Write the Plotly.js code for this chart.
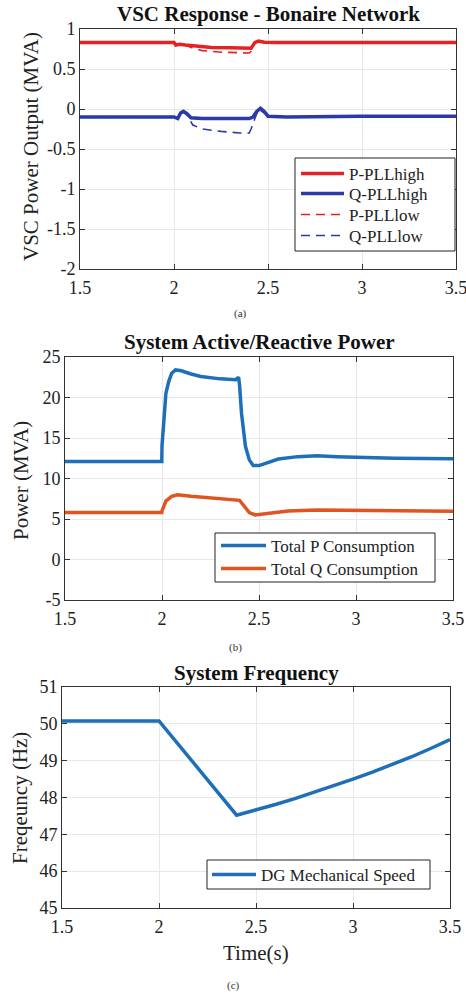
<!DOCTYPE html>
<html><head><meta charset="utf-8">
<script src="https://cdn.plot.ly/plotly-3.0.1.min.js"></script>
<style>html,body{margin:0;padding:0;background:#fff}</style>
</head><body><div id="chart" style="width:466px;height:994px"></div>
<script>
// ---- Panel (a): VSC response ----
const tPhigh = [1.5, 2.0, 2.01, 2.03, 2.06, 2.1, 2.15, 2.2, 2.3, 2.38, 2.41, 2.43, 2.45, 2.48, 2.55, 3.0, 3.5];
const pHigh  = [0.83, 0.83, 0.80, 0.81, 0.80, 0.79, 0.78, 0.77, 0.765, 0.76, 0.76, 0.83, 0.85, 0.835, 0.83, 0.83, 0.83];
const tPlow  = [1.5, 2.0, 2.02, 2.05, 2.1, 2.15, 2.25, 2.35, 2.4, 2.41, 2.43, 2.45, 2.48, 2.55, 3.5];
const pLow   = [0.83, 0.83, 0.80, 0.81, 0.76, 0.73, 0.71, 0.70, 0.70, 0.72, 0.83, 0.85, 0.835, 0.83, 0.83];
const tQhigh = [1.5, 2.0, 2.02, 2.035, 2.05, 2.07, 2.09, 2.15, 2.3, 2.4, 2.42, 2.44, 2.46, 2.48, 2.5, 2.6, 3.0, 3.5];
const qHigh  = [-0.10, -0.10, -0.12, -0.05, -0.03, -0.06, -0.11, -0.12, -0.12, -0.12, -0.10, -0.03, 0.01, -0.03, -0.09, -0.10, -0.09, -0.09];
const tQlow  = [1.5, 2.0, 2.02, 2.035, 2.05, 2.07, 2.1, 2.15, 2.25, 2.35, 2.4, 2.41, 2.43, 2.45, 2.48, 2.5, 3.5];
const qLow   = [-0.10, -0.10, -0.12, -0.05, -0.03, -0.08, -0.20, -0.25, -0.28, -0.30, -0.30, -0.25, -0.12, 0.0, -0.05, -0.10, -0.09];
// ---- Panel (b): system P/Q ----
const tPsys = [1.5, 1.999, 2.0, 2.01, 2.02, 2.035, 2.05, 2.07, 2.1, 2.15, 2.2, 2.3, 2.38, 2.395, 2.40, 2.41, 2.43, 2.45, 2.47, 2.5, 2.55, 2.6, 2.7, 2.8, 2.9, 3.0, 3.2, 3.5];
const pSys  = [12.1, 12.1, 14, 18, 20.5, 22.0, 23.0, 23.4, 23.3, 22.9, 22.6, 22.3, 22.2, 22.5, 21.5, 18, 14, 12.3, 11.6, 11.6, 12.0, 12.4, 12.7, 12.8, 12.7, 12.6, 12.5, 12.45];
const tQsys = [1.5, 1.999, 2.0, 2.02, 2.05, 2.08, 2.15, 2.25, 2.35, 2.4, 2.42, 2.45, 2.48, 2.55, 2.65, 2.8, 3.0, 3.5];
const qSys  = [5.8, 5.8, 6.0, 7.2, 7.8, 8.0, 7.8, 7.6, 7.35, 7.3, 6.7, 5.8, 5.5, 5.7, 6.0, 6.1, 6.05, 5.95];
// ---- Panel (c): frequency ----
const tFreq = [1.5, 2.0, 2.4, 2.5, 2.6, 2.7, 2.8, 2.9, 3.0, 3.1, 3.2, 3.3, 3.4, 3.5];
const freq  = [50.08, 50.08, 47.52, 47.66, 47.81, 47.97, 48.14, 48.32, 48.5, 48.69, 48.89, 49.1, 49.33, 49.57];
// ticks
const xTicks = [1.5, 2, 2.5, 3, 3.5];
const xTickText = ['1.5', '2', '2.5', '3', '3.5'];
const yTicksA = [-2, -1.5, -1, -0.5, 0, 0.5, 1];
const yTickTextA = ['-2', '-1.5', '-1', '-0.5', '0', '0.5', '1'];
const yTicksB = [-5, 0, 5, 10, 15, 20, 25];
const yTickTextB = ['-5', '0', '5', '10', '15', '20', '25'];
const yTicksC = [45, 46, 47, 48, 49, 50, 51];
const yTickTextC = ['45', '46', '47', '48', '49', '50', '51'];

const FONT = "'Liberation Serif', serif";
const RED = '#e52222', BLUE = '#2b3aa6', MBLUE = '#1f6fb8', MORANGE = '#df5420';

const traces = [
  {x: tPhigh, y: pHigh, name: 'P-PLLhigh', mode: 'lines', line: {color: RED, width: 3.5}, xaxis: 'x', yaxis: 'y', legend: 'legend'},
  {x: tQhigh, y: qHigh, name: 'Q-PLLhigh', mode: 'lines', line: {color: BLUE, width: 3.5}, xaxis: 'x', yaxis: 'y', legend: 'legend2'},
  {x: tPlow, y: pLow, name: 'P-PLLlow', mode: 'lines', line: {color: RED, width: 1.6, dash: '9px,6px'}, xaxis: 'x', yaxis: 'y', legend: 'legend3'},
  {x: tQlow, y: qLow, name: 'Q-PLLlow', mode: 'lines', line: {color: BLUE, width: 1.6, dash: '9px,6px'}, xaxis: 'x', yaxis: 'y', legend: 'legend4'},
  {x: tPsys, y: pSys, name: 'Total P Consumption', mode: 'lines', line: {color: MBLUE, width: 3.5}, xaxis: 'x2', yaxis: 'y2', legend: 'legend5'},
  {x: tQsys, y: qSys, name: 'Total Q Consumption', mode: 'lines', line: {color: MORANGE, width: 3.5}, xaxis: 'x2', yaxis: 'y2', legend: 'legend6'},
  {x: tFreq, y: freq, name: 'DG Mechanical Speed', mode: 'lines', line: {color: MBLUE, width: 3.5}, xaxis: 'x3', yaxis: 'y3', legend: 'legend7'}
];

const H = 994, W = 466;
const px = v => v / W, py = v => 1 - v / H;
function xax(l, r, anchor) {
  return {domain: [px(l), px(r)], anchor: anchor, range: [1.5, 3.5], tickvals: xTicks, ticktext: xTickText,
    ticks: 'inside', ticklen: 5, tickcolor: '#333', showline: true, linecolor: '#333', linewidth: 1, mirror: 'ticks',
    showgrid: true, gridcolor: '#e8e8e8', zeroline: false, tickfont: {family: FONT, size: 18, color: '#222'},
    ticklabelstandoff: 2, ticklabeloverflow: 'allow'};
}
function yax(t, b, anchor, range, tv, tt) {
  return {domain: [py(b), py(t)], anchor: anchor, range: range, tickvals: tv, ticktext: tt,
    ticks: 'inside', ticklen: 5, tickcolor: '#333', showline: true, linecolor: '#333', linewidth: 1, mirror: 'ticks',
    showgrid: true, gridcolor: '#e8e8e8', zeroline: false, tickfont: {family: FONT, size: 18, color: '#222'},
    ticklabeloverflow: 'allow'};
}
const leg = (x, y, iw) => ({x: px(x), y: py(y), xanchor: 'left', yanchor: 'middle', bgcolor: 'rgba(0,0,0,0)',
  borderwidth: 0, itemwidth: iw, font: {family: FONT, size: 17, color: '#222'}});
const box = (l, t, r, b) => ({type: 'rect', xref: 'paper', yref: 'paper', x0: px(l), x1: px(r), y0: py(b), y1: py(t),
  layer: 'above', fillcolor: '#fff', line: {color: '#222', width: 1}});

const ann = (text, x, y, opts) => Object.assign({text: text, x: px(x), y: py(y), xref: 'paper', yref: 'paper',
  showarrow: false, xanchor: 'center', yanchor: 'middle', font: {family: FONT, size: 17, color: '#111'}}, opts || {});

const layout = {
  width: W, height: H, margin: {l: 0, r: 0, t: 0, b: 0}, paper_bgcolor: '#fff', plot_bgcolor: '#fff',
  font: {family: FONT, size: 17, color: '#222'},
  showlegend: true,
  xaxis: xax(80, 456, 'y'), yaxis: yax(29, 269, 'x', [-2, 1], yTicksA, yTickTextA),
  xaxis2: xax(65, 453, 'y2'), yaxis2: yax(357, 600, 'x2', [-5, 25], yTicksB, yTickTextB),
  xaxis3: xax(62, 450, 'y3'), yaxis3: yax(687, 908, 'x3', [45, 51], yTicksC, yTickTextC),
  legend: leg(296, 174, 43), legend2: leg(296, 194, 43), legend3: leg(296, 215, 43), legend4: leg(296, 236, 43),
  legend5: leg(216, 546, 45), legend6: leg(216, 569, 45),
  legend7: leg(207, 875, 44),
  shapes: [box(295, 158, 455, 251), box(215, 533, 435, 582), box(207, 860, 430, 889)],
  annotations: [
    ann('<b>VSC Response - Bonaire Network</b>', 268, 14, {font: {family: FONT, size: 21, color: '#111'}}),
    ann('<b>System Active/Reactive Power</b>', 259, 342, {font: {family: FONT, size: 21, color: '#111'}}),
    ann('<b>System Frequency</b>', 256, 673, {font: {family: FONT, size: 21, color: '#111'}}),
    ann('VSC Power Output (MVA)', 31, 147, {textangle: -90, font: {family: FONT, size: 21, color: '#222'}}),
    ann('Power (MVA)', 21, 481, {textangle: -90, font: {family: FONT, size: 21, color: '#222'}}),
    ann('Freqeuncy (Hz)', 20, 798, {textangle: -90, font: {family: FONT, size: 21, color: '#222'}}),
    ann('Time(s)', 256, 953, {font: {family: FONT, size: 21, color: '#222'}}),
    ann('(a)', 240, 313, {font: {family: FONT, size: 11, color: '#333'}}),
    ann('(b)', 235, 647, {font: {family: FONT, size: 11, color: '#333'}}),
    ann('(c)', 233, 985, {font: {family: FONT, size: 11, color: '#333'}})
  ]
};
Plotly.newPlot('chart', traces, layout, {displayModeBar: false, staticPlot: true});
</script></body></html>
